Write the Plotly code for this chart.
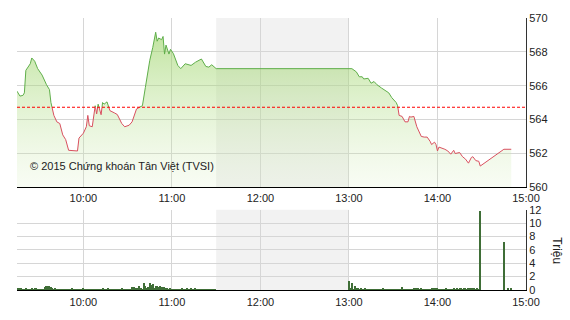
import pandas as pd
import plotly.graph_objects as go

DAY = "2015-01-05 "

price_times = [
    "09:15", "09:17", "09:19", "09:20", "09:21", "09:24", "09:25", "09:27", "09:29", "09:32",
    "09:35", "09:37", "09:38", "09:40", "09:42", "09:44", "09:46", "09:48", "09:50", "09:53",
    "09:56", "09:57", "10:00", "10:02", "10:03", "10:04", "10:06", "10:08", "10:09", "10:10",
    "10:12", "10:13", "10:14", "10:16", "10:18", "10:21", "10:23", "10:26", "10:28", "10:31",
    "10:33", "10:36", "10:38", "10:40", "10:42", "10:45", "10:47", "10:49", "10:50", "10:51",
    "10:53", "10:54", "10:55", "10:56", "10:58", "10:59", "11:01", "11:04", "11:06", "11:09",
    "11:13", "11:16", "11:20", "11:23", "11:25", "11:27", "11:30",
    "13:00", "13:02", "13:05", "13:07", "13:09", "13:10", "13:13", "13:15", "13:17", "13:19",
    "13:22", "13:24", "13:27", "13:29", "13:32", "13:33", "13:34", "13:36", "13:38", "13:40",
    "13:41", "13:42", "13:44", "13:46", "13:49", "13:51", "13:53", "13:55", "13:56", "13:58",
    "13:59", "14:00", "14:01", "14:05", "14:07", "14:09", "14:11", "14:12", "14:15", "14:17",
    "14:19", "14:21", "14:23", "14:24", "14:26", "14:28", "14:29", "14:45", "14:50",
]
price_values = [
    565.68, 565.39, 565.43, 565.58, 566.91, 567.30, 567.64, 567.45, 567.01, 566.63,
    566.06, 565.77, 565.01, 564.25, 563.87, 563.77, 563.10, 562.82, 562.19, 562.15,
    562.15, 562.91, 563.20, 563.58, 564.25, 563.64, 563.58, 564.82, 564.34, 564.91,
    564.29, 565.01, 564.91, 565.05, 564.53, 564.40, 564.30, 563.77, 563.58, 563.67,
    563.87, 564.63, 564.73, 564.82, 565.90, 567.50, 568.25, 569.16, 568.63, 568.82,
    568.72, 568.91, 567.87, 568.40, 567.87, 568.15, 567.90, 567.20, 567.01, 567.30,
    567.20, 567.39, 567.58, 567.14, 567.10, 567.24, 567.01,
    567.01, 567.01, 566.82, 566.53, 566.53, 566.40, 566.44, 566.15, 566.25, 566.06,
    565.87, 565.77, 565.58, 565.30, 565.01, 564.82, 564.25, 564.19, 563.87, 563.87,
    564.19, 564.15, 564.19, 563.58, 563.01, 562.97, 562.97, 562.72, 562.53, 562.67,
    562.53, 562.15, 562.38, 562.25, 562.15, 561.96, 562.19, 562.00, 562.06, 561.81,
    561.67, 561.43, 561.77, 561.81, 561.58, 561.54, 561.26, 562.25, 562.25,
]
reference_price = 564.73

# volume (million shares), one value per minute
vol_morning_start = "09:15"
vol_morning = [
    0.15, 0.4, 0.4, 0.3, 0.2, 0.25, 0.3, 0.15, 0.25, 0.2, 0.3, 0.2, 0.4, 0.35, 0.2,
    0.2, 0.15, 0.25, 0.2, 0.45, 0.7, 0.6, 0.65, 0.5, 0.3, 0.25, 0.3, 0.2, 0.25, 0.15,
    0.2, 0.25, 0.15, 0.2, 0.25, 0.15, 0.2, 0.3, 0.15, 0.2, 0.25, 0.2, 0.15, 0.25, 0.2,
    0.4, 0.2, 0.15, 0.1, 0.15, 0.2, 0.15, 0.2, 0.25, 0.2, 0.15, 0.25, 0.2, 0.3, 0.2,
    0.25, 0.2, 0.3, 0.2, 0.25, 0.2, 0.15, 0.25, 0.2, 0.15, 0.2, 0.3, 0.2, 0.15, 0.25,
    0.2, 0.15, 0.25, 0.45, 0.5, 0.35, 0.4, 0.3, 0.7, 0.3, 0.2, 1.05, 0.6, 0.3, 0.5,
    1.1, 0.85, 0.95, 0.3, 0.7, 0.65, 0.55, 0.7, 0.5, 0.4, 0.45, 0.35, 0.4, 0.2, 0.4,
    0.2, 0.25, 0.15, 0.2, 0.2, 0.15, 0.25, 0.3, 0.25, 0.2, 0.3, 0.25, 0.2, 0.3, 0.25,
    0.2, 0.3, 0.2, 0.15, 0.2, 0.15, 0.15, 0.2, 0.15, 0.15, 0.2, 0.15, 0.15, 0.15, 0.2,
]
vol_afternoon_start = "13:00"
vol_afternoon = [
    1.35, 0.3, 1.05, 0.2, 0.65, 0.3, 0.35, 0.25, 0.3, 0.25, 0.15, 0.4, 0.2, 0.15, 0.15,
    0.15, 0.1, 0.15, 0.15, 0.15, 0.15, 0.2, 0.15, 0.3, 0.15, 0.15, 0.15, 0.2, 0.15, 0.15,
    0.15, 0.2, 0.15, 0.2, 0.15, 0.2, 0.5, 0.2, 0.25, 0.15, 0.2, 0.2, 0.15, 0.2, 0.3,
    0.3, 0.3, 0.3, 0.25, 0.3, 0.2, 0.15, 0.2, 0.2, 0.15, 0.2, 0.3, 0.2, 0.35, 0.4,
    0.4, 0.25, 0.2, 0.25, 0.2, 0.25, 0.3, 0.2, 0.25, 0.2, 0.25, 0.3, 0.2, 0.35, 0.2,
    0.3, 0.4, 0.25, 0.3, 0.35, 0.25, 0.4, 0.3, 0.35, 0.3, 0.35, 0.2, 0.3, 0.25, 11.8,
]
vol_late_times = ["14:45", "14:48", "14:50"]
vol_late = [7.25, 0.35, 0.35]

hour_ticks = ["09:15", "10:00", "11:00", "12:00", "13:00", "14:00", "15:00"]
hour_labels = ["", "10:00", "11:00", "12:00", "13:00", "14:00", "15:00"]
price_ticks = [560, 562, 564, 566, 568, 570]
volume_ticks = [0, 2, 4, 6, 8, 10, 12]
watermark = "© 2015 Chứng khoán Tân Việt (TVSI)"
volume_title = "Triệu"

# ---------------------------------------------------------------
px_t = pd.to_datetime([DAY + t for t in price_times])
v_m_t = pd.date_range(DAY + vol_morning_start, periods=len(vol_morning), freq="min")
v_a_t = pd.date_range(DAY + vol_afternoon_start, periods=len(vol_afternoon), freq="min")
v_l_t = pd.to_datetime([DAY + t for t in vol_late_times])
vol_x = list(v_m_t) + list(v_a_t) + list(v_l_t)
vol_y = vol_morning + vol_afternoon + vol_late

# split price line into segments above (green) / below (red) the reference
green_x, green_y, red_x, red_y = [], [], [], []
def add(seg_x, seg_y, up):
    tx, ty = (green_x, green_y) if up else (red_x, red_y)
    tx.extend(seg_x + [None]); ty.extend(seg_y + [None])

cur_x, cur_y = [px_t[0]], [price_values[0]]
cur_up = price_values[0] >= reference_price
for i in range(1, len(price_values)):
    x0, y0 = px_t[i - 1], price_values[i - 1]
    x1, y1 = px_t[i], price_values[i]
    up = y1 >= reference_price
    if up != cur_up:
        f = (reference_price - y0) / (y1 - y0)
        xc = x0 + (x1 - x0) * f
        cur_x.append(xc); cur_y.append(reference_price)
        add(cur_x, cur_y, cur_up)
        cur_x, cur_y = [xc], [reference_price]
        cur_up = up
    cur_x.append(x1); cur_y.append(y1)
add(cur_x, cur_y, cur_up)

fig = go.Figure()
fig.add_trace(go.Scatter(
    x=px_t, y=price_values, mode="lines", line=dict(width=0),
    fill="tozeroy",
    fillgradient=dict(type="vertical", start=560, stop=569.5,
                      colorscale=[[0, "rgba(215,238,190,0.15)"], [1, "rgba(140,205,80,0.58)"]]),
    hoverinfo="skip", showlegend=False, xaxis="x", yaxis="y"))
fig.add_trace(go.Scatter(x=green_x, y=green_y, mode="lines",
                         line=dict(color="#5fae4a", width=1), showlegend=False,
                         xaxis="x", yaxis="y"))
fig.add_trace(go.Scatter(x=red_x, y=red_y, mode="lines",
                         line=dict(color="#d9505f", width=1), showlegend=False,
                         xaxis="x", yaxis="y"))
fig.add_trace(go.Bar(x=vol_x, y=vol_y, marker=dict(color="#3f6e37", line=dict(width=0)),
                     width=[45000] * len(vol_y), showlegend=False, xaxis="x2", yaxis="y2"))

x_range = [DAY + "09:15", DAY + "15:00"]
tickfont = dict(family="Liberation Sans, Arial, sans-serif", size=11, color="#222")
xcommon = dict(type="date", range=x_range, tickmode="array",
               tickvals=[DAY + t for t in hour_ticks], ticktext=hour_labels,
               showgrid=True, gridcolor="#d6d6d6", gridwidth=1,
               showline=True, linecolor="#000", linewidth=1,
               ticks="", tickfont=tickfont, zeroline=False, fixedrange=True)

top_dom = [(297 - 191) / 281, 1.0]
bot_dom = [0.0, (297 - 214) / 281]

fig.update_layout(
    width=570, height=320,
    margin=dict(l=17, r=44, t=16, b=23),
    paper_bgcolor="white", plot_bgcolor="white",
    bargap=0,
    xaxis=dict(**xcommon, anchor="y", domain=[0, 1]),
    xaxis2=dict(**xcommon, anchor="y2", domain=[0, 1], ticklabelstandoff=2),
    yaxis=dict(domain=top_dom, range=[560, 570], side="right", tickvals=price_ticks,
               showgrid=True, gridcolor="#d6d6d6", zeroline=False,
               showline=True, linecolor="#333", linewidth=1,
               ticks="", tickfont=tickfont, anchor="x"),
    yaxis2=dict(domain=bot_dom, range=[0, 12], side="right", tickvals=volume_ticks,
                showgrid=True, gridcolor="#d6d6d6", zeroline=False,
                showline=True, linecolor="#333", linewidth=1,
                ticks="", tickfont=tickfont, anchor="x2"),
    shapes=[
        dict(type="rect", xref="x", yref="y domain", x0=DAY + "11:30", x1=DAY + "13:00",
             y0=0, y1=1, fillcolor="#f2f2f2", line=dict(width=0), layer="below"),
        dict(type="rect", xref="x2", yref="y2 domain", x0=DAY + "11:30", x1=DAY + "13:00",
             y0=0, y1=1, fillcolor="#f2f2f2", line=dict(width=0), layer="below"),
        dict(type="line", xref="x domain", yref="y", x0=0, x1=1,
             y0=reference_price, y1=reference_price,
             line=dict(color="#ff0000", width=1.2, dash="3px,2px")),
    ],
    annotations=[
        dict(text=watermark, xref="paper", yref="paper", x=(122 - 17) / 509,
             y=(297 - 169) / 281, showarrow=False, xanchor="center", yanchor="middle",
             font=dict(family="Liberation Sans, Arial, sans-serif", size=11, color="#222")),
        dict(text=volume_title, xref="paper", yref="paper", x=(556.7 - 17) / 509,
             y=(297 - 256.7) / 281, showarrow=False, textangle=90,
             xanchor="center", yanchor="middle",
             font=dict(family="Liberation Sans, Arial, sans-serif", size=12, color="#222")),
    ],
)

fig.write_html("out.html")
